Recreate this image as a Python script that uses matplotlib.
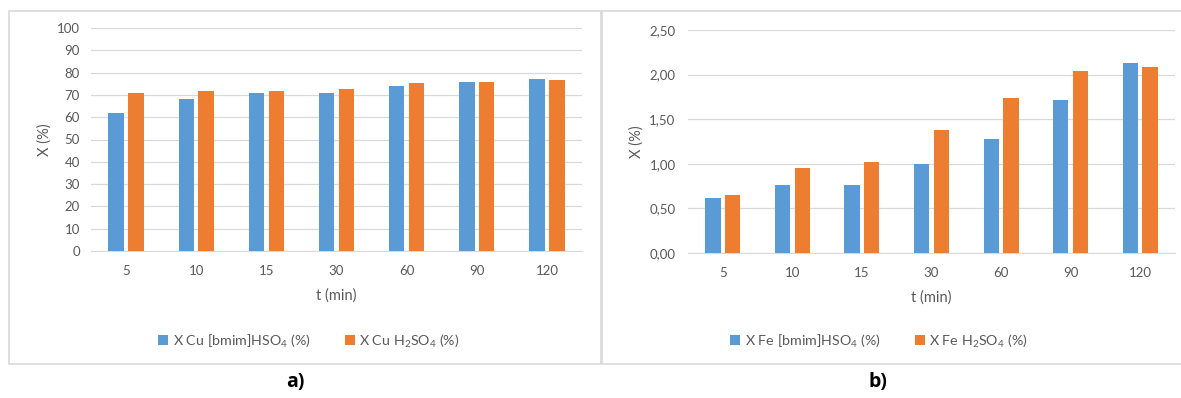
import matplotlib
matplotlib.use("Agg")
import matplotlib.pyplot as plt
import numpy as np
from matplotlib.patches import Rectangle

plt.rcParams['font.family'] = ['Lato', 'DejaVu Sans']
plt.rcParams['mathtext.fontset'] = 'custom'
plt.rcParams['mathtext.rm'] = 'Lato'
plt.rcParams['mathtext.it'] = 'Lato:italic'
plt.rcParams['mathtext.bf'] = 'Lato:bold'

categories = ['5', '10', '15', '30', '60', '90', '120']
cu_bmim = [62.0, 68.0, 71.0, 71.0, 74.0, 75.6, 77.3]
cu_h2so4 = [71.0, 71.6, 71.8, 72.8, 75.2, 75.6, 76.5]
fe_bmim = [0.62, 0.76, 0.76, 1.00, 1.28, 1.71, 2.13]
fe_h2so4 = [0.65, 0.95, 1.02, 1.38, 1.74, 2.04, 2.08]

cu_ticks = list(range(0, 101, 10))
fe_ticks = [0.0, 0.5, 1.0, 1.5, 2.0, 2.5]
fe_ticklabels = ['0,00', '0,50', '1,00', '1,50', '2,00', '2,50']

BLUE = '#5B9BD5'
ORANGE = '#ED7D31'
GRID = '#D9D9D9'
TXT = '#595959'

W, H = 1181, 398
fig = plt.figure(figsize=(W / 100, H / 100), dpi=100)

def px_axes(l, r, top, bot):
    return fig.add_axes([l / W, (H - bot) / H, (r - l) / W, (bot - top) / H])

# panel borders
for (x0, x1) in [(9, 601), (602, 1185)]:
    fig.patches.append(Rectangle((x0 / W, (H - 364) / H), (x1 - x0) / W, (364 - 11) / H,
                                 transform=fig.transFigure, fill=False,
                                 edgecolor='#D9D9D9', linewidth=1.2))

def draw(ax, a, b, ticks, ticklabels, ymax, la, lb, leg_x, ypad):
    x = np.arange(len(categories))
    w = 0.22
    g = 0.065
    ax.bar(x - (w + g) / 2, a, width=w, color=BLUE, label=la, zorder=3)
    ax.bar(x + (w + g) / 2, b, width=w, color=ORANGE, label=lb, zorder=3)
    ax.set_xlim(-0.5, len(categories) - 0.5)
    ax.set_ylim(0, ymax)
    ax.set_yticks(ticks)
    ax.set_yticklabels(ticklabels)
    ax.set_xticks(x)
    ax.set_xticklabels(categories)
    for s in ['top', 'right', 'left']:
        ax.spines[s].set_visible(False)
    ax.spines['bottom'].set_color(GRID)
    ax.yaxis.grid(True, color=GRID, linewidth=0.9, zorder=0)
    ax.set_axisbelow(True)
    ax.tick_params(axis='both', length=0, colors=TXT, labelsize=9.5)
    ax.tick_params(axis='x', pad=10)
    ax.tick_params(axis='y', pad=ypad)
    ax.set_xlabel('t (min)', color=TXT, fontsize=10.5, labelpad=8)
    ax.set_ylabel('X (%)', color=TXT, fontsize=10.5, labelpad=4)
    h, l = ax.get_legend_handles_labels()
    fig.legend(h, l, loc='center', bbox_to_anchor=(leg_x / W, (H - 341) / H),
               ncol=2, frameon=False, fontsize=10.3, labelcolor=TXT,
               handlelength=0.7, handleheight=0.7, handletextpad=0.3,
               columnspacing=2.4)

ax1 = px_axes(91, 582, 28, 251)
draw(ax1, cu_bmim, cu_h2so4, cu_ticks, [str(t) for t in cu_ticks], 100,
     r'X Cu [bmim]HSO$_4$ (%)', r'X Cu H$_2$SO$_4$ (%)', 309, 8)

ax2 = px_axes(688, 1175, 30, 253)
draw(ax2, fe_bmim, fe_h2so4, fe_ticks, fe_ticklabels, 2.5,
     r'X Fe [bmim]HSO$_4$ (%)', r'X Fe H$_2$SO$_4$ (%)', 879, 9)

fig.text(295 / W, (H - 382) / H, 'a)', fontsize=14, fontweight='bold', ha='center', va='center',
         family=['Open Sans', 'DejaVu Sans'])
fig.text(878 / W, (H - 382) / H, 'b)', fontsize=14, fontweight='bold', ha='center', va='center',
         family=['Open Sans', 'DejaVu Sans'])

fig.savefig('out.png', dpi=100, facecolor='white')
